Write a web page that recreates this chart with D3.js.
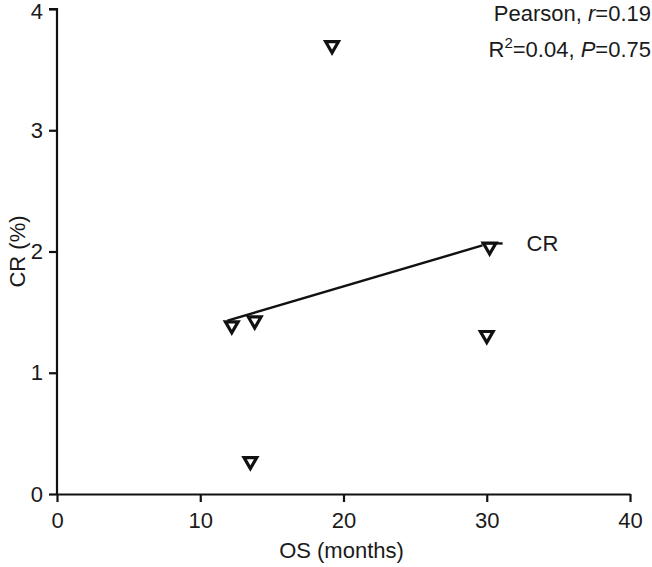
<!DOCTYPE html>
<html><head><meta charset="utf-8">
<script src="https://cdn.jsdelivr.net/npm/d3@7"></script>
<style>body{margin:0;background:#fff}svg{display:block}text{font-family:"Liberation Sans",Arial,sans-serif;fill:#1a1a1a}</style>
</head><body><svg id="c" width="652" height="567"></svg>
<script>
const osMonths = [19.2, 30.2, 12.2, 13.8, 13.5, 30.0];
const crPct    = [3.70, 2.04, 1.39, 1.43, 0.27, 1.31];
const fitX = [11.9, 29.7];
const fitY = [1.43, 2.05];
const xTicks = [0, 10, 20, 30, 40];
const yTicks = [0, 1, 2, 3, 4];
const seriesName = "CR";
const xTitle = "OS (months)";
const yTitle = "CR (%)";

const FS = 22;
const svg = d3.select("#c");
const x = d3.scaleLinear().domain([0, 40]).range([57, 630]);
const y = d3.scaleLinear().domain([0, 4]).range([494, 9]);

const gx = svg.append("g").attr("transform", "translate(0,494)")
  .call(d3.axisBottom(x).tickValues(xTicks).tickFormat(d3.format("d")).tickSize(8).tickPadding(10).tickSizeOuter(0));
const gy = svg.append("g").attr("transform", "translate(57,0)")
  .call(d3.axisLeft(y).tickValues(yTicks).tickFormat(d3.format("d")).tickSize(8).tickPadding(6).tickSizeOuter(0));
[gx, gy].forEach(g => {
  g.attr("font-size", FS).attr("font-family", "Liberation Sans, Arial, sans-serif");
  g.select(".domain").attr("stroke", "#111").attr("stroke-width", 2.2);
  g.selectAll(".tick line").attr("stroke", "#111").attr("stroke-width", 2.2);
  g.selectAll(".tick text").attr("fill", "#1a1a1a");
});
gy.selectAll(".tick text").filter(d => d === 4).attr("dy", "0.42em");
gy.select(".domain").attr("d", `M-8,${y(4)}H0V${y(0)}`);

svg.append("text").attr("x", (x(0)+x(40))/2 - 2).attr("y", 558).attr("text-anchor", "middle").attr("font-size", FS).text(xTitle);
svg.append("text").attr("transform", `translate(25,${y(2)}) rotate(-90)`).attr("text-anchor", "middle").attr("font-size", FS).text(yTitle);

svg.append("line").attr("x1", x(fitX[0])).attr("y1", y(fitY[0])).attr("x2", x(fitX[1])).attr("y2", y(fitY[1]))
  .attr("stroke", "#111").attr("stroke-width", 2.4);

const tri = d3.symbol().type(d3.symbolTriangle).size(70);
svg.selectAll("path.pt").data(osMonths.map((v, i) => [v, crPct[i]])).join("path").attr("class", "pt")
  .attr("d", tri).attr("transform", d => `translate(${x(d[0])},${y(d[1])}) rotate(180)`)
  .attr("fill", "#fff").attr("stroke", "#111").attr("stroke-width", 3.2);

const lg = svg.append("g").attr("transform", `translate(${x(30.2)},${y(fitY[1]) - 2})`);
lg.append("line").attr("x1", -8).attr("x2", 13).attr("y1", 0).attr("y2", 0).attr("stroke", "#111").attr("stroke-width", 2.4);
lg.append("text").attr("x", 37).attr("y", 8).attr("font-size", FS).text(seriesName);

const st = svg.append("text").attr("x", 651).attr("y", 21).attr("text-anchor", "end").attr("font-size", FS);
st.append("tspan").text("Pearson, ");
st.append("tspan").attr("font-style", "italic").text("r");
st.append("tspan").text("=0.19");
const st2 = svg.append("text").attr("x", 651).attr("y", 57).attr("text-anchor", "end").attr("font-size", FS);
st2.append("tspan").text("R");
st2.append("tspan").attr("font-size", 15).attr("dy", -9).text("2");
st2.append("tspan").attr("dy", 9).text("=0.04, ");
st2.append("tspan").attr("font-style", "italic").text("P");
st2.append("tspan").text("=0.75");
</script></body></html>
